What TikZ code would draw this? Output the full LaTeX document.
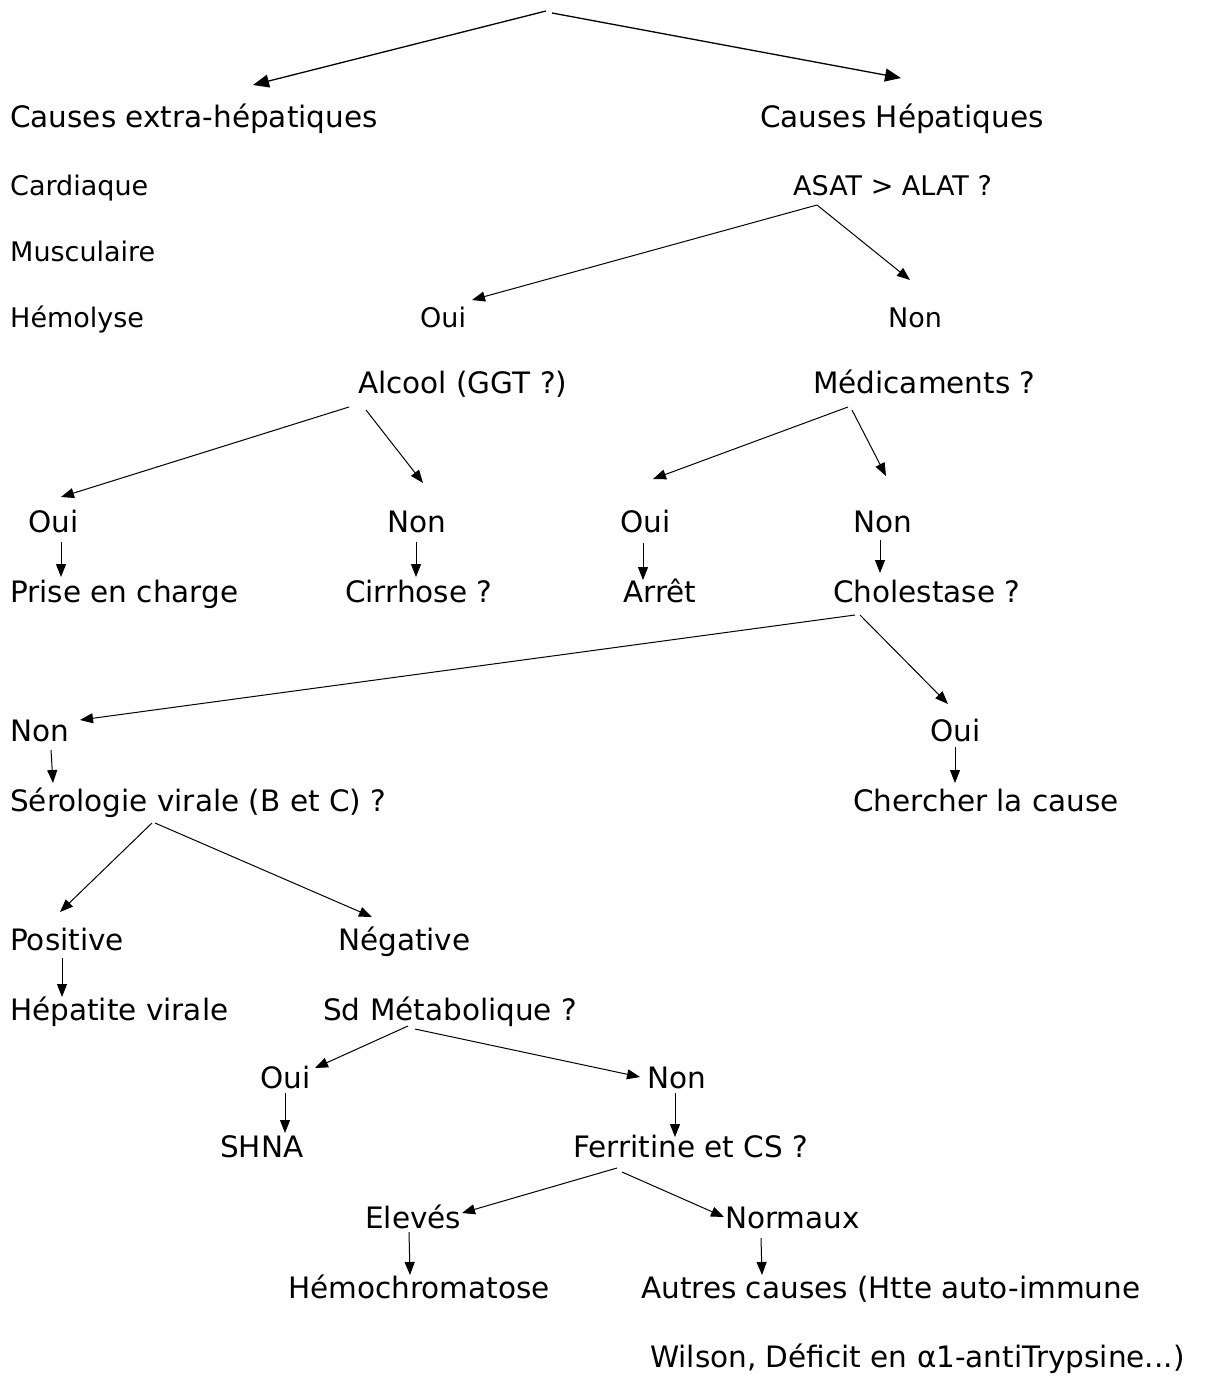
\documentclass[tikz,border=0pt]{standalone}
\usepackage{fontspec}
\setmainfont{DejaVu Sans}
\usetikzlibrary{arrows.meta}

\newcommand\lblbig{\fontsize{29.5}{34}\selectfont}
\newcommand\lblsmall{\fontsize{27}{31}\selectfont}

\tikzset{
	lbl/.style={anchor=base west, inner sep=0pt, font=\lblbig},
	lblsm/.style={lbl, font=\lblsmall},
	arr/.style={-{Triangle[length=13pt,width=10pt]}, line width=1pt},
	arrtop/.style={arr, -{Triangle[length=16pt,width=13pt]}, line width=1.3pt},
}

\begin{document}
\begin{tikzpicture}[x=1pt, y=-1pt]
		\useasboundingbox (0,0) rectangle (1208,1376);
		%\draw[help lines, step=50] (0,0) grid (1208,1376);
		
		\coordinate (top) at (549,12);
		
		\foreach \n/\s/\x/\y in {card/Cardiaque/10/195, musc/Musculaire/10/261,
			hemol/Hémolyse/10/327, asat/ASAT > ALAT ?/793/195,
			ouiL/Oui/420/327, nonL/Non/888/327}
		\node[lblsm] (\n) at (\x,\y) {\s};
		
		\foreach \n/\s/\x/\y in {ext/Causes extra-hépatiques/10/127, hep/Causes Hépatiques/760/127,
			alc/Alcool (GGT ?)/358/393, med/Médicaments ?/813/393,
			ouiA/Oui/28/532, nonA/Non/387/532, ouiM/Oui/620/532, nonM/Non/853/532,
			prise/Prise en charge/10/602, cirr/Cirrhose ?/345/602,
			arret/Arrêt/623/602, chol/Cholestase ?/833/602,
			nonC/Non/10/741, ouiC/Oui/930/741,
			sero/Sérologie virale (B et C) ?/10/811, cherch/Chercher la cause/853/811,
			pos/Positive/10/950, neg/Négative/338/950,
			hepv/Hépatite virale/10/1020, sdm/Sd Métabolique ?/323/1020,
			ouiS/Oui/260/1088, nonS/Non/647/1088,
			shna/SHNA/220/1157, ferr/Ferritine et CS ?/573/1157,
			elev/Elevés/365/1228, norm/Normaux/725/1228,
			hemo/Hémochromatose/288/1298, autres/Autres causes (Htte auto-immune/641/1298,
			wilson/{Wilson, Déficit en α1-antiTrypsine...)}/650/1367}
		\node[lbl] (\n) at (\x,\y) {\s};
		
		\draw[arrtop] ([shift={(-3,-1)}]top) -- ([shift={(243,-42)}]ext.base west);
		\draw[arrtop] ([shift={(3,1)}]top) -- ([shift={(141,-49)}]hep.base west);
		
		\foreach \a/\x/\y/\b/\u/\v in {asat/24/10/ouiL/52/-27, asat/24/10/nonL/22/-47,
			alc/-9/14/ouiA/33/-35, alc/8/17/nonA/36/-49,
			med/35/14/ouiM/33/-53, med/39/17/nonM/33/-56,
			chol/22/13/nonC/70/-21, chol/27/13/ouiC/18/-37,
			sero/142/12/pos/50/-38, sero/145/12/neg/34/-33,
			sdm/85/6/ouiS/55/-20, sdm/92/9/nonS/-7/-11,
			ferr/44/11/elev/97/-15, ferr/49/15/norm/-1/-11}
		\draw[arr] ([shift={(\x,\y)}]\a.base west) -- ([shift={(\u,\v)}]\b.base west);
		
		\foreach \a/\x/\y/\b/\u/\v in {ouiA/33/10/prise/51/-25, nonA/29/10/cirr/71/-25,
			ouiM/23/11/arret/20/-22, nonM/27/8/chol/47/-29,
			nonC/41/9/sero/43/-28, ouiC/25/6/cherch/102/-28,
			pos/52/8/hepv/52/-23, ouiS/25/5/shna/65/-24,
			nonS/28/5/ferr/102/-20, elev/44/4/hemo/122/-23,
			norm/36/10/autres/121/-23}
		\draw[arr] ([shift={(\x,\y)}]\a.base west) -- ([shift={(\u,\v)}]\b.base west);
	\end{tikzpicture}
\end{document}
